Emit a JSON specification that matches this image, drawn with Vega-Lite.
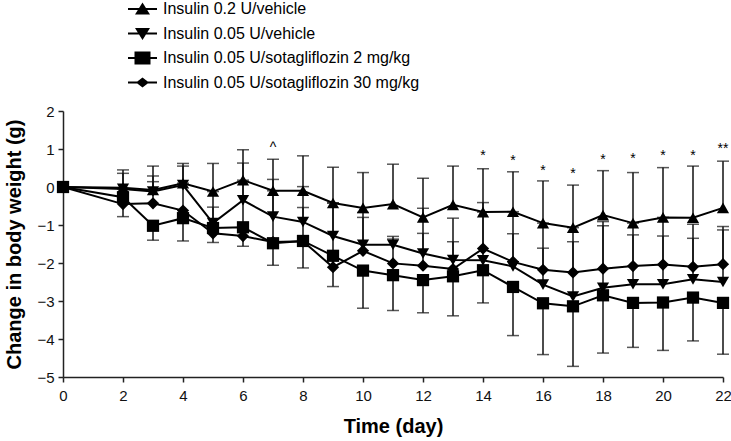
{
  "$schema": "https://vega.github.io/schema/vega-lite/v6.json",
  "width": 660,
  "height": 266,
  "autosize": "none",
  "padding": {"left": 63, "top": 111, "right": 8, "bottom": 64},
  "config": {
    "view": {"stroke": null},
    "font": "Liberation Sans",
    "axis": {
      "grid": false,
      "domainColor": "#222",
      "domainWidth": 1.5,
      "tickColor": "#222",
      "tickWidth": 1.5,
      "tickSize": 5,
      "labelFont": "Liberation Sans",
      "labelFontSize": 15,
      "labelColor": "#111",
      "labelOverlap": false,
      "labelFlush": false,
      "titleFont": "Liberation Sans",
      "titleFontSize": 20,
      "titleFontWeight": "bold",
      "titleColor": "#000"
    }
  },
  "datasets": {
    "main": [
      {"series": "Insulin 0.2 U/vehicle", "day": 0, "value": 0, "err": null},
      {"series": "Insulin 0.2 U/vehicle", "day": 2, "value": -0.02, "err": 0.45},
      {"series": "Insulin 0.2 U/vehicle", "day": 3, "value": -0.08, "err": 0.55},
      {"series": "Insulin 0.2 U/vehicle", "day": 4, "value": 0.1, "err": 0.62},
      {"series": "Insulin 0.2 U/vehicle", "day": 5, "value": -0.12, "err": 0.62},
      {"series": "Insulin 0.2 U/vehicle", "day": 6, "value": 0.18, "err": 0.98},
      {"series": "Insulin 0.2 U/vehicle", "day": 7, "value": -0.1, "err": 0.73},
      {"series": "Insulin 0.2 U/vehicle", "day": 8, "value": -0.1, "err": 0.82},
      {"series": "Insulin 0.2 U/vehicle", "day": 9, "value": -0.42, "err": 0.52},
      {"series": "Insulin 0.2 U/vehicle", "day": 10, "value": -0.55, "err": 0.38},
      {"series": "Insulin 0.2 U/vehicle", "day": 11, "value": -0.45, "err": 0.6},
      {"series": "Insulin 0.2 U/vehicle", "day": 12, "value": -0.8, "err": 0.23},
      {"series": "Insulin 0.2 U/vehicle", "day": 13, "value": -0.47, "err": 0.55},
      {"series": "Insulin 0.2 U/vehicle", "day": 14, "value": -0.66, "err": 0.48},
      {"series": "Insulin 0.2 U/vehicle", "day": 15, "value": -0.65, "err": 0.4},
      {"series": "Insulin 0.2 U/vehicle", "day": 16, "value": -0.95, "err": 0.16},
      {"series": "Insulin 0.2 U/vehicle", "day": 17, "value": -1.07, "err": 0.05},
      {"series": "Insulin 0.2 U/vehicle", "day": 18, "value": -0.74, "err": 0.43},
      {"series": "Insulin 0.2 U/vehicle", "day": 19, "value": -0.95, "err": 0.38},
      {"series": "Insulin 0.2 U/vehicle", "day": 20, "value": -0.8, "err": 0.51},
      {"series": "Insulin 0.2 U/vehicle", "day": 21, "value": -0.81, "err": 0.55},
      {"series": "Insulin 0.2 U/vehicle", "day": 22, "value": -0.55, "err": 0.68},

      {"series": "Insulin 0.05 U/vehicle", "day": 0, "value": 0, "err": null},
      {"series": "Insulin 0.05 U/vehicle", "day": 2, "value": -0.05, "err": 0.36},
      {"series": "Insulin 0.05 U/vehicle", "day": 3, "value": -0.12, "err": 0.29},
      {"series": "Insulin 0.05 U/vehicle", "day": 4, "value": 0.05, "err": 0.55},
      {"series": "Insulin 0.05 U/vehicle", "day": 5, "value": -0.95, "err": -0.53},
      {"series": "Insulin 0.05 U/vehicle", "day": 6, "value": -0.35, "err": 0.63},
      {"series": "Insulin 0.05 U/vehicle", "day": 7, "value": -0.78, "err": 0.2},
      {"series": "Insulin 0.05 U/vehicle", "day": 8, "value": -0.92, "err": 0.01},
      {"series": "Insulin 0.05 U/vehicle", "day": 9, "value": -1.29, "err": -0.42},
      {"series": "Insulin 0.05 U/vehicle", "day": 10, "value": -1.52, "err": -0.67},
      {"series": "Insulin 0.05 U/vehicle", "day": 11, "value": -1.52, "err": -1.3},
      {"series": "Insulin 0.05 U/vehicle", "day": 12, "value": -1.75, "err": -0.56},
      {"series": "Insulin 0.05 U/vehicle", "day": 13, "value": -1.92, "err": -0.82},
      {"series": "Insulin 0.05 U/vehicle", "day": 14, "value": -1.93, "err": -0.41},
      {"series": "Insulin 0.05 U/vehicle", "day": 15, "value": -2.09, "err": -1.23},
      {"series": "Insulin 0.05 U/vehicle", "day": 16, "value": -2.57, "err": -1.61},
      {"series": "Insulin 0.05 U/vehicle", "day": 17, "value": -2.88, "err": -1.44},
      {"series": "Insulin 0.05 U/vehicle", "day": 18, "value": -2.65, "err": -0.91},
      {"series": "Insulin 0.05 U/vehicle", "day": 19, "value": -2.56, "err": -1.26},
      {"series": "Insulin 0.05 U/vehicle", "day": 20, "value": -2.56, "err": -1.29},
      {"series": "Insulin 0.05 U/vehicle", "day": 21, "value": -2.43, "err": -0.98},
      {"series": "Insulin 0.05 U/vehicle", "day": 22, "value": -2.5, "err": -1.04},

      {"series": "Insulin 0.05 U/sotagliflozin 2 mg/kg", "day": 0, "value": 0, "err": null},
      {"series": "Insulin 0.05 U/sotagliflozin 2 mg/kg", "day": 2, "value": -0.27, "err": -0.78},
      {"series": "Insulin 0.05 U/sotagliflozin 2 mg/kg", "day": 3, "value": -1.02, "err": -1.4},
      {"series": "Insulin 0.05 U/sotagliflozin 2 mg/kg", "day": 4, "value": -0.82, "err": -1.42},
      {"series": "Insulin 0.05 U/sotagliflozin 2 mg/kg", "day": 5, "value": -1.08, "err": -1.46},
      {"series": "Insulin 0.05 U/sotagliflozin 2 mg/kg", "day": 6, "value": -1.06, "err": -1.56},
      {"series": "Insulin 0.05 U/sotagliflozin 2 mg/kg", "day": 7, "value": -1.48, "err": -2.06},
      {"series": "Insulin 0.05 U/sotagliflozin 2 mg/kg", "day": 8, "value": -1.42, "err": -2.13},
      {"series": "Insulin 0.05 U/sotagliflozin 2 mg/kg", "day": 9, "value": -1.81, "err": -2.62},
      {"series": "Insulin 0.05 U/sotagliflozin 2 mg/kg", "day": 10, "value": -2.2, "err": -3.19},
      {"series": "Insulin 0.05 U/sotagliflozin 2 mg/kg", "day": 11, "value": -2.32, "err": -3.25},
      {"series": "Insulin 0.05 U/sotagliflozin 2 mg/kg", "day": 12, "value": -2.45, "err": -3.31},
      {"series": "Insulin 0.05 U/sotagliflozin 2 mg/kg", "day": 13, "value": -2.35, "err": -3.39},
      {"series": "Insulin 0.05 U/sotagliflozin 2 mg/kg", "day": 14, "value": -2.19, "err": -3.05},
      {"series": "Insulin 0.05 U/sotagliflozin 2 mg/kg", "day": 15, "value": -2.63, "err": -3.91},
      {"series": "Insulin 0.05 U/sotagliflozin 2 mg/kg", "day": 16, "value": -3.06, "err": -4.41},
      {"series": "Insulin 0.05 U/sotagliflozin 2 mg/kg", "day": 17, "value": -3.14, "err": -4.72},
      {"series": "Insulin 0.05 U/sotagliflozin 2 mg/kg", "day": 18, "value": -2.85, "err": -4.37},
      {"series": "Insulin 0.05 U/sotagliflozin 2 mg/kg", "day": 19, "value": -3.05, "err": -4.22},
      {"series": "Insulin 0.05 U/sotagliflozin 2 mg/kg", "day": 20, "value": -3.04, "err": -4.3},
      {"series": "Insulin 0.05 U/sotagliflozin 2 mg/kg", "day": 21, "value": -2.91, "err": -4.05},
      {"series": "Insulin 0.05 U/sotagliflozin 2 mg/kg", "day": 22, "value": -3.05, "err": -4.4},

      {"series": "Insulin 0.05 U/sotagliflozin 30 mg/kg", "day": 0, "value": 0, "err": null},
      {"series": "Insulin 0.05 U/sotagliflozin 30 mg/kg", "day": 2, "value": -0.45, "err": -0.05},
      {"series": "Insulin 0.05 U/sotagliflozin 30 mg/kg", "day": 3, "value": -0.43, "err": 0.14},
      {"series": "Insulin 0.05 U/sotagliflozin 30 mg/kg", "day": 4, "value": -0.62, "err": 0.1},
      {"series": "Insulin 0.05 U/sotagliflozin 30 mg/kg", "day": 5, "value": -1.22, "err": -0.12},
      {"series": "Insulin 0.05 U/sotagliflozin 30 mg/kg", "day": 6, "value": -1.29, "err": 0.18},
      {"series": "Insulin 0.05 U/sotagliflozin 30 mg/kg", "day": 7, "value": -1.45, "err": -0.1},
      {"series": "Insulin 0.05 U/sotagliflozin 30 mg/kg", "day": 8, "value": -1.43, "err": -0.54},
      {"series": "Insulin 0.05 U/sotagliflozin 30 mg/kg", "day": 9, "value": -2.11, "err": -0.42},
      {"series": "Insulin 0.05 U/sotagliflozin 30 mg/kg", "day": 10, "value": -1.68, "err": -0.8},
      {"series": "Insulin 0.05 U/sotagliflozin 30 mg/kg", "day": 11, "value": -2.01, "err": -1.37},
      {"series": "Insulin 0.05 U/sotagliflozin 30 mg/kg", "day": 12, "value": -2.07, "err": -1.22},
      {"series": "Insulin 0.05 U/sotagliflozin 30 mg/kg", "day": 13, "value": -2.16, "err": -1.44},
      {"series": "Insulin 0.05 U/sotagliflozin 30 mg/kg", "day": 14, "value": -1.62, "err": -0.66},
      {"series": "Insulin 0.05 U/sotagliflozin 30 mg/kg", "day": 15, "value": -1.97, "err": -0.65},
      {"series": "Insulin 0.05 U/sotagliflozin 30 mg/kg", "day": 16, "value": -2.18, "err": -0.95},
      {"series": "Insulin 0.05 U/sotagliflozin 30 mg/kg", "day": 17, "value": -2.25, "err": -1.07},
      {"series": "Insulin 0.05 U/sotagliflozin 30 mg/kg", "day": 18, "value": -2.15, "err": -1.02},
      {"series": "Insulin 0.05 U/sotagliflozin 30 mg/kg", "day": 19, "value": -2.08, "err": -0.95},
      {"series": "Insulin 0.05 U/sotagliflozin 30 mg/kg", "day": 20, "value": -2.04, "err": -0.8},
      {"series": "Insulin 0.05 U/sotagliflozin 30 mg/kg", "day": 21, "value": -2.1, "err": -1.35},
      {"series": "Insulin 0.05 U/sotagliflozin 30 mg/kg", "day": 22, "value": -2.03, "err": -1.13}
    ],
    "marks": [
      {"day": 7, "y": 1.1, "label": "^"},
      {"day": 14, "y": 0.89, "label": "*"},
      {"day": 15, "y": 0.76, "label": "*"},
      {"day": 16, "y": 0.5, "label": "*"},
      {"day": 17, "y": 0.42, "label": "*"},
      {"day": 18, "y": 0.79, "label": "*"},
      {"day": 19, "y": 0.81, "label": "*"},
      {"day": 20, "y": 0.89, "label": "*"},
      {"day": 21, "y": 0.89, "label": "*"},
      {"day": 22, "y": 1.07, "label": "**"}
    ]
  },
  "layer": [
    {
      "data": {"name": "main"},
      "transform": [{"filter": "datum.err != null"}],
      "mark": {"type": "rule", "color": "#111", "strokeWidth": 1.5},
      "encoding": {
        "x": {"field": "day", "type": "quantitative", "scale": {"domain": [0, 22], "nice": false, "zero": false},
              "axis": {"values": [0, 2, 4, 6, 8, 10, 12, 14, 16, 18, 20, 22], "tickCount": 30, "format": "d", "title": "Time (day)", "labelPadding": 6, "titlePadding": 13}},
        "y": {"field": "value", "type": "quantitative", "scale": {"domain": [-5, 2], "nice": false},
              "axis": {"values": [-5, -4, -3, -2, -1, 0, 1, 2], "tickCount": 20, "format": "d", "labelOverlap": false, "title": "Change in body weight (g)", "labelPadding": 4, "titlePadding": 12}},
        "y2": {"field": "err"}
      }
    },
    {
      "data": {"name": "main"},
      "transform": [{"filter": "datum.err != null"}],
      "mark": {"type": "tick", "orient": "horizontal", "color": "#111", "size": 12, "thickness": 1.5},
      "encoding": {
        "x": {"field": "day", "type": "quantitative", "scale": {"domain": [0, 22], "nice": false, "zero": false}},
        "y": {"field": "err", "type": "quantitative", "scale": {"domain": [-5, 2], "nice": false}}
      }
    },
    {
      "data": {"name": "main"},
      "mark": {"type": "line", "color": "#000", "strokeWidth": 2},
      "encoding": {
        "x": {"field": "day", "type": "quantitative", "scale": {"domain": [0, 22], "nice": false, "zero": false}},
        "y": {"field": "value", "type": "quantitative", "scale": {"domain": [-5, 2], "nice": false}},
        "detail": {"field": "series"}
      }
    },
    {
      "data": {"name": "main"},
      "mark": {"type": "point", "filled": true, "color": "#000", "opacity": 1},
      "encoding": {
        "x": {"field": "day", "type": "quantitative", "scale": {"domain": [0, 22], "nice": false, "zero": false}},
        "y": {"field": "value", "type": "quantitative", "scale": {"domain": [-5, 2], "nice": false}},
        "shape": {"field": "series", "type": "nominal",
                  "scale": {"domain": ["Insulin 0.2 U/vehicle", "Insulin 0.05 U/vehicle", "Insulin 0.05 U/sotagliflozin 2 mg/kg", "Insulin 0.05 U/sotagliflozin 30 mg/kg"],
                            "range": ["triangle-up", "triangle-down", "square", "diamond"]},
                  "legend": null},
        "size": {"value": 150}
      }
    },
    {
      "data": {"name": "main"},
      "transform": [{"filter": "datum.day == 0"}],
      "mark": {"type": "point", "filled": true, "color": "#000", "opacity": 0},
      "encoding": {
        "x": {"field": "day", "type": "quantitative", "scale": {"domain": [0, 22], "nice": false, "zero": false}},
        "y": {"field": "value", "type": "quantitative", "scale": {"domain": [-5, 2], "nice": false}},
        "shape": {"field": "series", "type": "nominal",
                  "scale": {"domain": ["Insulin 0.2 U/vehicle", "Insulin 0.05 U/vehicle", "Insulin 0.05 U/sotagliflozin 2 mg/kg", "Insulin 0.05 U/sotagliflozin 30 mg/kg"],
                            "range": [
                              "M-1.45,-0.1H1.45V0.1H-1.45ZM0,-0.65L0.75,0.55H-0.75Z",
                              "M-1.45,-0.1H1.45V0.1H-1.45ZM0,0.65L-0.75,-0.55H0.75Z",
                              "M-1.45,-0.1H1.45V0.1H-1.45ZM-0.8,-0.65H0.8V0.65H-0.8Z",
                              "M-1.45,-0.1H1.45V0.1H-1.45ZM0,-0.5L0.65,0L0,0.5L-0.65,0Z"
                            ]},
                  "legend": {"title": null, "orient": "none", "legendX": 69.5, "legendY": -112, "padding": 0,
                             "labelFont": "Liberation Sans", "labelFontSize": 16, "labelColor": "#000", "labelLimit": 500,
                             "labelOffset": 10.5, "rowPadding": 6.5, "symbolSize": 400,
                             "symbolFillColor": "#000", "symbolStrokeColor": "#000", "symbolStrokeWidth": 0, "symbolOpacity": 1}},
        "size": {"value": 400}
      }
    },
    {
      "data": {"name": "marks"},
      "mark": {"type": "text", "font": "Liberation Sans", "fontSize": 14, "color": "#000", "baseline": "middle", "dy": 3},
      "encoding": {
        "x": {"field": "day", "type": "quantitative", "scale": {"domain": [0, 22], "nice": false, "zero": false}},
        "y": {"field": "y", "type": "quantitative", "scale": {"domain": [-5, 2], "nice": false}},
        "text": {"field": "label"}
      }
    }
  ],
  "resolve": {"scale": {"shape": "independent"}, "legend": {"shape": "independent"}}
}
